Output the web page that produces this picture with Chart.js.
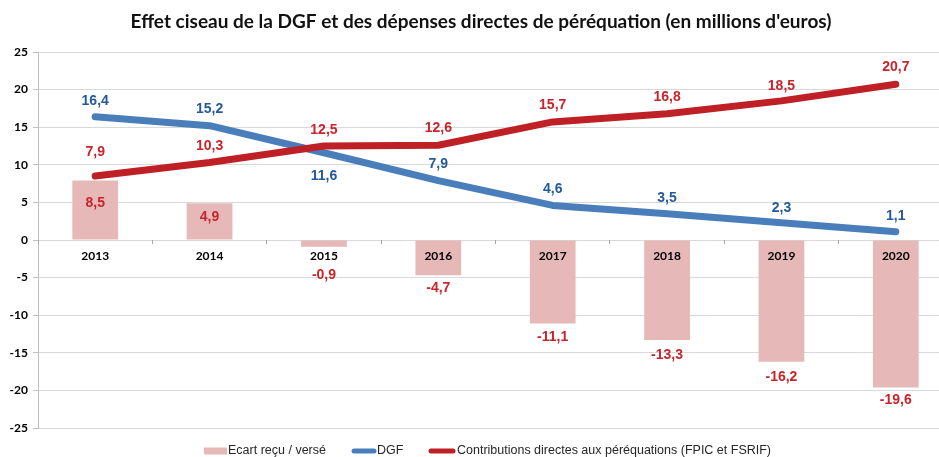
<!DOCTYPE html>
<html><head><meta charset="utf-8">
<script src="https://cdn.jsdelivr.net/npm/chart.js@4/dist/chart.umd.min.js"></script>
<style>
html,body{margin:0;padding:0;overflow:hidden;background:#fff;width:939px;height:457px}
#wrap{position:relative;width:953px;height:457px}
canvas{display:block}
</style></head>
<body><div id="wrap"><canvas id="c" width="953" height="457"></canvas></div>
<script>
const titleText = "Effet ciseau de la DGF et des dépenses directes de péréquation (en millions d'euros)";
const categories = ['2013','2014','2015','2016','2017','2018','2019','2020'];
const ecart = [7.9, 4.9, -0.9, -4.7, -11.1, -13.3, -16.2, -19.6];
const dgf = [16.4, 15.2, 11.6, 7.9, 4.6, 3.5, 2.3, 1.1];
const contributions = [8.5, 10.3, 12.5, 12.6, 15.7, 16.8, 18.5, 20.7];
const ecartLabels = ['8,5','4,9','-0,9','-4,7','-11,1','-13,3','-16,2','-19,6'];
const dgfLabels = ['16,4','15,2','11,6','7,9','4,6','3,5','2,3','1,1'];
const contribLabels = ['7,9','10,3','12,5','12,6','15,7','16,8','18,5','20,7'];
const seriesNames = ['Ecart reçu / versé','DGF','Contributions directes aux péréquations (FPIC et FSRIF)'];
const yMin = -25, yMax = 25, yStep = 5;

const COL_BAR = '#E6B9B8', COL_BLUE = '#4A7EBB', COL_RED = '#BE2026';
const COL_BLUE_TXT = '#24599A', COL_RED_TXT = '#C8242B';

// label vertical offsets (px) relative to the mark
const dgfOff = [-16,-17,23,-16,-16,-16,-15,-16];
const contribOff = [-24,-16,-16,-17,-17,-17,-15,-17];
const ecartOff = [23,14,28,13,14,15,15,13];

const labelPlugin = {
  id: 'labels',
  afterDatasetsDraw(chart) {
    const ctx = chart.ctx;
    ctx.save();
    ctx.font = 'bold 14px "Liberation Sans", Arial, sans-serif';
    ctx.textAlign = 'center';
    ctx.textBaseline = 'middle';
    const mb = chart.getDatasetMeta(0), md = chart.getDatasetMeta(1), mc = chart.getDatasetMeta(2);
    mb.data.forEach((el, i) => {
      ctx.fillStyle = COL_RED_TXT;
      ctx.fillText(ecartLabels[i], el.x, el.y + ecartOff[i]);
    });
    md.data.forEach((el, i) => {
      ctx.fillStyle = COL_BLUE_TXT;
      ctx.fillText(dgfLabels[i], el.x, el.y + dgfOff[i]);
    });
    mc.data.forEach((el, i) => {
      ctx.fillStyle = COL_RED_TXT;
      ctx.fillText(contribLabels[i], el.x, el.y + contribOff[i]);
    });
    ctx.restore();
  },
  afterDraw(chart) {
    const ctx = chart.ctx;
    ctx.save();
    // title
    ctx.font = 'bold 19px Lato, "Open Sans", sans-serif';
    ctx.fillStyle = '#111';
    ctx.textAlign = 'center';
    ctx.textBaseline = 'middle';
    ctx.fillText(titleText, 481, 22);
    // legend
    ctx.font = '12.5px "Liberation Sans", Arial, sans-serif';
    ctx.textAlign = 'left';
    const ly = 451;
    ctx.fillStyle = COL_BAR;
    ctx.fillRect(204, ly - 3.5, 23, 7);
    ctx.fillStyle = '#262626';
    ctx.fillText(seriesNames[0], 228, ly);
    ctx.lineCap = 'round';
    ctx.lineWidth = 5;
    ctx.strokeStyle = COL_BLUE;
    ctx.beginPath(); ctx.moveTo(354, ly); ctx.lineTo(374, ly); ctx.stroke();
    ctx.fillText(seriesNames[1], 377, ly);
    ctx.strokeStyle = COL_RED;
    ctx.beginPath(); ctx.moveTo(431, ly); ctx.lineTo(453, ly); ctx.stroke();
    ctx.fillText(seriesNames[2], 457, ly);
    ctx.restore();
  }
};

new Chart(document.getElementById('c'), {
  type: 'bar',
  data: {
    labels: categories,
    datasets: [
      { type: 'bar', label: seriesNames[0], data: ecart, backgroundColor: COL_BAR, borderWidth: 0,
        barPercentage: 0.4, categoryPercentage: 1.0, order: 3 },
      { type: 'line', label: seriesNames[1], data: dgf, borderColor: COL_BLUE, borderWidth: 7,
        pointRadius: 0, borderCapStyle: 'round', borderJoinStyle: 'round', tension: 0, fill: false, order: 2 },
      { type: 'line', label: seriesNames[2], data: contributions, borderColor: COL_RED, borderWidth: 7,
        pointRadius: 0, borderCapStyle: 'round', borderJoinStyle: 'round', tension: 0, fill: false, order: 1 }
    ]
  },
  options: {
    responsive: false,
    animation: false,
    devicePixelRatio: 1,
    layout: { padding: { top: 52, bottom: 29, left: 0, right: 0 } },
    plugins: { legend: { display: false }, title: { display: false }, tooltip: { enabled: false } },
    scales: {
      x: {
        type: 'category',
        position: { y: 0 },
        offset: true,
        grid: { display: true, drawOnChartArea: false, drawTicks: true, tickLength: 4, offset: true, color: '#A6A6A6', z: 1 },
        border: { display: false },
        ticks: { font: { family: 'Lato', weight: 'bold', size: 12 }, color: '#000', padding: 5, maxRotation: 0, autoSkip: false, z: 1 },
        afterFit(s) { s.height = 0; }
      },
      y: {
        min: yMin, max: yMax,
        ticks: { stepSize: yStep, font: { family: 'Lato', weight: 'bold', size: 12 }, color: '#000', padding: 5 },
        grid: { color: '#D9D9D9', tickLength: 5, tickColor: '#BFBFBF' },
        border: { color: '#BFBFBF' },
        afterFit(s) { s.width = 38; }
      }
    }
  },
  plugins: [labelPlugin]
});
</script>
</body></html>
